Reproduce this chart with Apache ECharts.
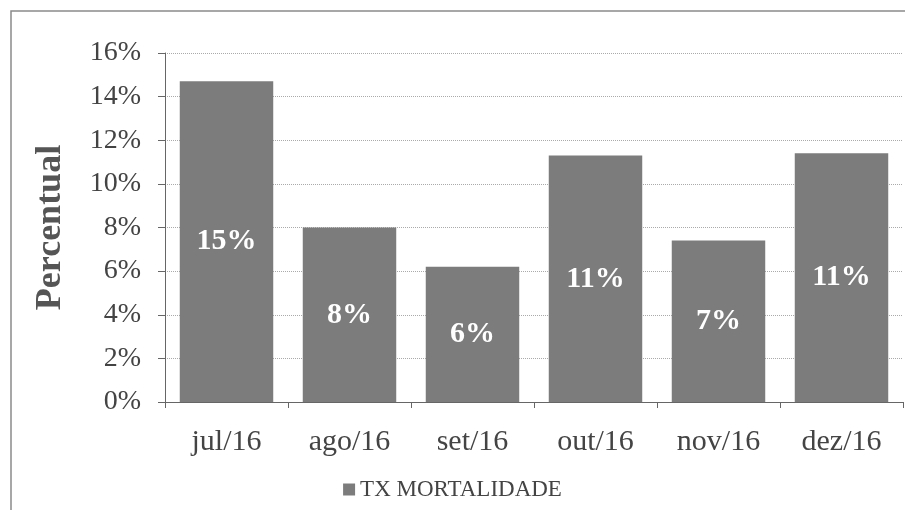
<!DOCTYPE html>
<html>
<head>
<meta charset="utf-8">
<script src="https://cdn.jsdelivr.net/npm/echarts@6/dist/echarts.min.js"></script>
<style>
  html, body { margin: 0; padding: 0; background: #fff; }
  #chart { width: 905px; height: 510px; }
</style>
</head>
<body>
<div id="chart"></div>
<script>
// dados
let months = ['jul/16', 'ago/16', 'set/16', 'out/16', 'nov/16', 'dez/16'];
let taxa = [14.7, 8.0, 6.2, 11.3, 7.4, 11.4];
let seriesName = 'TX MORTALIDADE';

const serif = '"Liberation Serif", "DejaVu Serif", serif';

let option = {
    animation: false,
    backgroundColor: '#fff',
    textStyle: { fontFamily: serif },
    graphic: [{
        type: 'rect',
        shape: { x: 11, y: 11, width: 930, height: 530 },
        style: { fill: 'none', stroke: '#8a8a8a', lineWidth: 1.5 },
        silent: true
    }],
    grid: {
        left: 165,
        right: 2,
        top: 53,
        bottom: 108,
    },
    legend: {
        data: [seriesName],
        bottom: 4,
        left: 'center',
        icon: 'rect',
        itemWidth: 12,
        itemHeight: 12,
        itemGap: 3,
        textStyle: { fontFamily: serif, fontSize: 23, color: '#444' },
    },
    xAxis: {
        type: 'category',
        data: months,
        axisLine: { lineStyle: { color: '#666', width: 1 } },
        axisTick: { show: true, length: 6, lineStyle: { color: '#666' } },
        axisLabel: { fontFamily: serif, fontSize: 30, color: '#444', margin: 25 },
    },
    yAxis: {
        type: 'value',
        min: 0,
        max: 16,
        interval: 2,
        name: 'Percentual',
        nameLocation: 'middle',
        nameGap: 96,
        nameTextStyle: { fontFamily: serif, fontSize: 36, fontWeight: 'bold', color: '#555' },
        axisLine: { show: true, lineStyle: { color: '#666', width: 1 } },
        axisTick: { show: true, length: 7, lineStyle: { color: '#666' } },
        axisLabel: { formatter: '{value}%', fontFamily: serif, fontSize: 28, color: '#444', margin: 24 },
        splitLine: { show: true, lineStyle: { color: '#aaa', type: 'dotted', width: 1 } },
    },
    series: [{
        name: seriesName,
        type: 'bar',
        data: taxa,
        barWidth: '76%',
        itemStyle: { color: '#7c7c7c' },
        label: {
            show: true,
            position: 'inside',
            formatter: (p) => Math.round(p.value) + '%',
            fontFamily: serif,
            fontSize: 30,
            fontWeight: 'bold',
            color: '#fff',
        },
    }],
};

let myChart = echarts.init(document.getElementById('chart'));
myChart.setOption(option);
</script>
</body>
</html>
